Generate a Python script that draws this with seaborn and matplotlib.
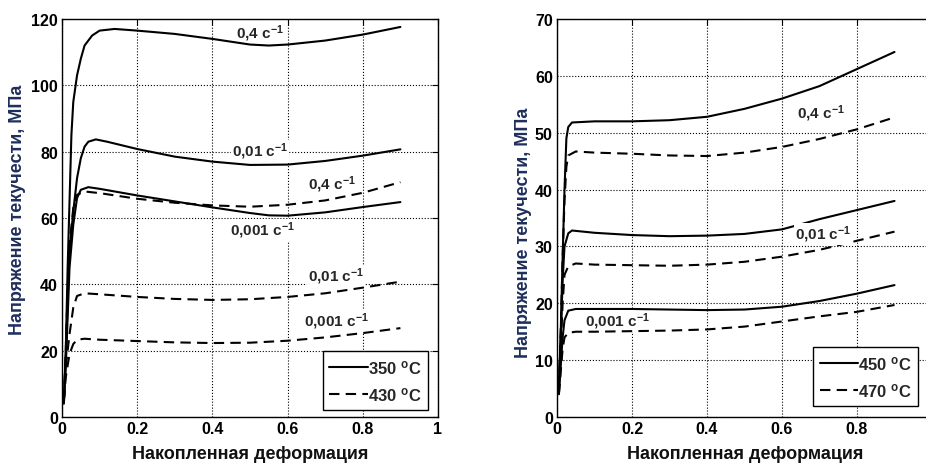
import numpy as np
import pandas as pd
import matplotlib
matplotlib.use('Agg')
import matplotlib.pyplot as plt
from matplotlib.lines import Line2D
import seaborn as sns

# --- data (strain, stress MPa) ---
# left panel: 350 C (solid), 430 C (dashed)
x_350_04 = [0.005, 0.01, 0.015, 0.02, 0.025, 0.03, 0.04, 0.05, 0.06, 0.08, 0.1, 0.14, 0.2, 0.3, 0.4, 0.5, 0.55, 0.6, 0.7, 0.8, 0.9]
y_350_04 = [5, 20, 45, 65, 85, 95, 103, 108, 112, 115, 116.5, 117, 116.5, 115.5, 114, 112.3, 112, 112.3, 113.5, 115.3, 117.6]

x_350_001 = [0.005, 0.01, 0.015, 0.02, 0.03, 0.04, 0.05, 0.06, 0.07, 0.09, 0.12, 0.2, 0.3, 0.4, 0.5, 0.6, 0.7, 0.8, 0.9]
y_350_001 = [5, 18, 35, 50, 62, 72, 78, 81.5, 83, 83.7, 83, 80.8, 78.5, 77, 76, 76.1, 77.2, 78.8, 80.7]

x_350_0001 = [0.005, 0.01, 0.015, 0.02, 0.03, 0.04, 0.05, 0.07, 0.1, 0.2, 0.3, 0.4, 0.5, 0.55, 0.6, 0.7, 0.8, 0.9]
y_350_0001 = [4, 15, 30, 45, 58, 66, 68.5, 69.3, 68.8, 66.8, 65, 63.2, 61.5, 60.8, 60.7, 61.7, 63.3, 64.8]

x_430_04 = [0.005, 0.01, 0.015, 0.02, 0.03, 0.04, 0.06, 0.1, 0.2, 0.3, 0.4, 0.5, 0.6, 0.7, 0.8, 0.9]
y_430_04 = [5, 20, 38, 52, 63, 67, 68, 67.5, 65.8, 64.6, 63.8, 63.4, 64, 65.3, 67.6, 70.8]

x_430_001 = [0.005, 0.01, 0.02, 0.03, 0.04, 0.06, 0.1, 0.2, 0.3, 0.4, 0.5, 0.6, 0.7, 0.8, 0.9]
y_430_001 = [5, 15, 25, 33, 36.5, 37.3, 37, 36.2, 35.6, 35.3, 35.5, 36.2, 37.3, 39, 40.8]

x_430_0001 = [0.005, 0.01, 0.02, 0.03, 0.04, 0.06, 0.1, 0.2, 0.3, 0.4, 0.5, 0.6, 0.7, 0.8, 0.9]
y_430_0001 = [5, 12, 19, 22, 23.3, 23.6, 23.3, 22.9, 22.5, 22.3, 22.4, 23, 24, 25.3, 26.8]

# right panel: 450 C (solid), 470 C (dashed)
x_450_04 = [0.005, 0.01, 0.015, 0.02, 0.025, 0.03, 0.04, 0.1, 0.2, 0.3, 0.4, 0.5, 0.6, 0.7, 0.8, 0.9]
y_450_04 = [5, 15, 28, 40, 49, 51, 51.8, 52, 52, 52.2, 52.8, 54.2, 56, 58.2, 61.2, 64.2]

x_470_04 = [0.005, 0.01, 0.015, 0.02, 0.025, 0.03, 0.05, 0.1, 0.2, 0.3, 0.4, 0.5, 0.6, 0.7, 0.8, 0.9]
y_470_04 = [5, 15, 28, 38, 44, 46, 46.7, 46.5, 46.3, 46, 45.9, 46.5, 47.5, 48.9, 50.6, 52.7]

x_450_001 = [0.005, 0.01, 0.015, 0.02, 0.03, 0.04, 0.1, 0.2, 0.3, 0.4, 0.5, 0.6, 0.7, 0.8, 0.9]
y_450_001 = [5, 14, 24, 30, 32.3, 32.8, 32.4, 32, 31.8, 31.9, 32.2, 33, 34.8, 36.4, 38]

x_470_001 = [0.005, 0.01, 0.015, 0.02, 0.03, 0.05, 0.1, 0.2, 0.3, 0.4, 0.5, 0.6, 0.7, 0.8, 0.9]
y_470_001 = [4, 12, 20, 25, 26.5, 27, 26.8, 26.7, 26.6, 26.8, 27.3, 28.2, 29.4, 31, 32.6]

x_450_0001 = [0.005, 0.01, 0.015, 0.02, 0.03, 0.05, 0.1, 0.2, 0.3, 0.4, 0.5, 0.6, 0.7, 0.8, 0.9]
y_450_0001 = [4, 9, 14, 17, 18.7, 19, 19, 19, 18.9, 18.8, 18.9, 19.4, 20.4, 21.7, 23.2]

x_470_0001 = [0.005, 0.01, 0.015, 0.02, 0.03, 0.05, 0.1, 0.2, 0.3, 0.4, 0.5, 0.6, 0.7, 0.8, 0.9]
y_470_0001 = [4, 8, 12, 14, 14.8, 15, 15, 15.1, 15.2, 15.4, 15.9, 16.8, 17.7, 18.5, 19.7]

left_temps = ['350 $^{o}$C', '430 $^{o}$C']
right_temps = ['450 $^{o}$C', '470 $^{o}$C']

left_labels = ['0,4 с$^{-1}$', '0,01 с$^{-1}$', '0,4 с$^{-1}$', '0,001 с$^{-1}$', '0,01 с$^{-1}$', '0,001 с$^{-1}$']
left_label_x = [0.527, 0.527, 0.717, 0.533, 0.728, 0.731]
left_label_y = [116.0, 80.2, 70.4, 56.5, 42.5, 29.0]
left_label_z = [1.8, 1.8, 1.8, 1.8, 1.8, 1.8]

right_labels = ['0,4 с$^{-1}$', '0,01 с$^{-1}$', '0,001 с$^{-1}$']
right_label_x = [0.703, 0.71, 0.16]
right_label_y = [53.6, 32.2, 16.9]
right_label_z = [1.8, 4, 1.8]

xticks = [0, 0.2, 0.4, 0.6, 0.8, 1.0]
left_xticklabels = ['0', '0.2', '0.4', '0.6', '0.8', '1']
right_xticklabels = ['0', '0.2', '0.4', '0.6', '0.8', '']


def make_df(curves):
    rows = []
    for temp, rate, xs, ys in curves:
        for a, b in zip(xs, ys):
            rows.append({'temp': temp, 'rate': rate, 'strain': a, 'stress': b})
    return pd.DataFrame(rows)


df_left = make_df([
    (left_temps[0], '0.4', x_350_04, y_350_04),
    (left_temps[0], '0.01', x_350_001, y_350_001),
    (left_temps[0], '0.001', x_350_0001, y_350_0001),
    (left_temps[1], '0.4', x_430_04, y_430_04),
    (left_temps[1], '0.01', x_430_001, y_430_001),
    (left_temps[1], '0.001', x_430_0001, y_430_0001),
])
df_right = make_df([
    (right_temps[0], '0.4', x_450_04, y_450_04),
    (right_temps[0], '0.01', x_450_001, y_450_001),
    (right_temps[0], '0.001', x_450_0001, y_450_0001),
    (right_temps[1], '0.4', x_470_04, y_470_04),
    (right_temps[1], '0.01', x_470_001, y_470_001),
    (right_temps[1], '0.001', x_470_0001, y_470_0001),
])

sns.set_style('white')
plt.rcParams['font.family'] = ['Liberation Sans', 'DejaVu Sans']
plt.rcParams['font.weight'] = 'bold'
plt.rcParams['mathtext.fontset'] = 'custom'
plt.rcParams['mathtext.rm'] = 'Liberation Sans'
plt.rcParams['mathtext.bf'] = 'Liberation Sans:bold'
plt.rcParams['mathtext.default'] = 'bf'

dash = (5, 3)

fig = plt.figure(figsize=(9.26, 4.64), dpi=100)
ax1 = fig.add_axes([62 / 926, 46 / 464, 376 / 926, 398 / 464])
ax2 = fig.add_axes([557 / 926, 46 / 464, 375 / 926, 398 / 464])


def draw_panel(ax, df, temps, ymax, ystep, xticklabels, labels, lx, ly, lz, leg_anchor):
    sns.lineplot(data=df, x='strain', y='stress', style='temp', units='rate',
                 estimator=None, sort=False, color='k', linewidth=1.5,
                 dashes={temps[0]: '', temps[1]: dash}, style_order=temps,
                 legend=False, ax=ax)
    ax.set_xlim(0, 1)
    ax.set_ylim(0, ymax)
    ax.set_xticks(xticks)
    ax.set_xticklabels(xticklabels)
    ax.set_yticks(np.arange(0, ymax + 1, ystep))
    ax.grid(True, linestyle=':', color='k', linewidth=0.8)
    ax.tick_params(direction='in', top=True, right=True, length=4, labelsize=11.5,
                   colors='k', pad=3)
    for s in ax.spines.values():
        s.set_color('k')
        s.set_linewidth(1.0)
        s.set_zorder(5)
    ax.set_xlabel('')
    ax.set_ylabel('')
    for t, x, y, z in zip(labels, lx, ly, lz):
        ax.text(x, y, t, ha='center', va='center', fontsize=11, zorder=z,
                bbox=dict(facecolor='white', edgecolor='none', pad=0.5))
    handles = [Line2D([], [], color='k', lw=1.5),
               Line2D([], [], color='k', lw=1.5, dashes=dash)]
    leg = ax.legend(handles, temps, loc='lower right', bbox_to_anchor=leg_anchor,
                    borderaxespad=0, fancybox=False, framealpha=1, edgecolor='k',
                    fontsize=12, handlelength=2.3, handletextpad=0.0, labelspacing=0.55,
                    borderpad=0.4)
    leg.get_frame().set_linewidth(1.0)
    leg.set_zorder(6)


draw_panel(ax1, df_left, left_temps, 120, 20, left_xticklabels,
           left_labels, left_label_x, left_label_y, left_label_z, (0.973, 0.018))
draw_panel(ax2, df_right, right_temps, 70, 10, right_xticklabels,
           right_labels, right_label_x, right_label_y, right_label_z, (0.963, 0.028))

xl_color = '#111111'
yl_color = '#1f2f5c'
fig.text(250 / 926, 1 - 455 / 464, 'Накопленная деформация', ha='center', va='center',
         fontsize=13, color=xl_color)
fig.text(745 / 926, 1 - 455 / 464, 'Накопленная деформация', ha='center', va='center',
         fontsize=13, color=xl_color)
fig.text(18 / 926, 1 - 210 / 464, 'Напряжение текучести, МПа', ha='center', va='center',
         rotation=90, fontsize=13, color=yl_color)
fig.text(523 / 926, 1 - 233 / 464, 'Напряжение текучести, МПа', ha='center', va='center',
         rotation=90, fontsize=13, color=yl_color)

fig.savefig('out.png', dpi=100)
